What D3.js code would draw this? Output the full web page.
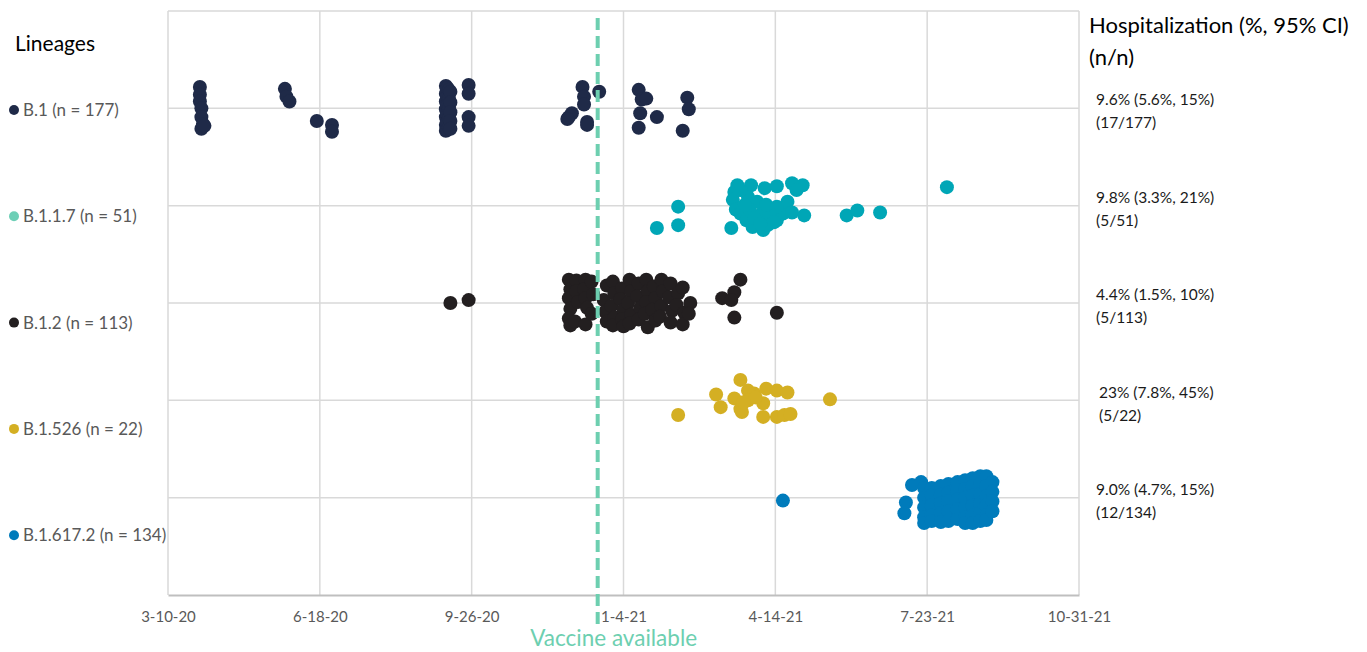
<!DOCTYPE html>
<html>
    <head>
        <meta charset="utf-8">
        <script type="text/javascript" src="https://d3js.org/d3.v7.min.js" charset="utf-8"></script>
        <style>
            body { margin: 0; background: #fff; }
            svg text { font-family: Lato, "Open Sans", sans-serif; }
        </style>
    </head>
    <body>
        <script>
            const WIDTH = 1367;
            const HEIGHT = 652;
            const LEFT = 168;
            const RIGHT = 1079;
            const TOP = 11;
            const BOTTOM = 595;
            const DOT_R = 7;

            const GRID_COLOR = '#d9d9d9';
            const AXIS_COLOR = '#bfbfbf';
            const LABEL_COLOR = '#595959';
            const VACCINE_COLOR = '#6dcfb0';

            // ---- data ----
            const LINEAGES = ['B.1 (n = 177)', 'B.1.1.7 (n = 51)', 'B.1.2 (n = 113)', 'B.1.526 (n = 22)', 'B.1.617.2 (n = 134)'];
            const DOT_COLORS = ['#1f2a48', '#00a6b6', '#231f20', '#d4af23', '#007bbb'];
            const LEGEND_COLORS = ['#1f2a48', '#6dcfb6', '#231f20', '#d4af23', '#007bbb'];

            const HOSP_RATES = ['9.6% (5.6%, 15%)', '9.8% (3.3%, 21%)', '4.4% (1.5%, 10%)', '23% (7.8%, 45%)', '9.0% (4.7%, 15%)'];
            const HOSP_COUNTS = ['(17/177)', '(5/51)', '(5/113)', '(5/22)', '(12/134)'];

            const X_TICKS = ['2020-03-10', '2020-06-18', '2020-09-26', '2021-01-04', '2021-04-14', '2021-07-23', '2021-10-31'];
            const VACCINE_DATE = '2020-12-18';

            // [sample date, vertical jitter within the lineage row]
            const B1_POINTS = [
                ['2020-03-31', 0.22], ['2020-03-31', 0.14], ['2020-03-31', 0.07], ['2020-04-01', 0.0],
                ['2020-04-01', -0.09], ['2020-04-02', -0.16], ['2020-04-01', -0.21], ['2020-04-03', -0.18],
                ['2020-05-26', 0.20], ['2020-05-27', 0.12], ['2020-05-29', 0.07],
                ['2020-06-16', -0.13], ['2020-06-26', -0.17], ['2020-06-26', -0.24],
                ['2020-09-09', 0.23], ['2020-09-09', 0.15], ['2020-09-09', 0.07], ['2020-09-09', -0.01],
                ['2020-09-09', -0.09], ['2020-09-09', -0.17], ['2020-09-09', -0.23],
                ['2020-09-10', 0.21], ['2020-09-10', 0.12], ['2020-09-10', 0.03], ['2020-09-10', -0.06],
                ['2020-09-10', -0.14], ['2020-09-10', -0.22],
                ['2020-09-11', 0.19], ['2020-09-11', 0.10], ['2020-09-11', 0.0], ['2020-09-11', -0.10], ['2020-09-11', -0.20],
                ['2020-09-12', 0.17], ['2020-09-12', 0.06], ['2020-09-12', -0.04], ['2020-09-12', -0.13], ['2020-09-12', -0.21],
                ['2020-09-24', 0.24], ['2020-09-24', 0.15], ['2020-09-24', -0.09], ['2020-09-24', -0.18],
                ['2020-12-08', 0.22], ['2020-12-09', 0.12], ['2020-12-09', 0.04], ['2020-11-29', -0.09],
                ['2020-12-01', -0.05], ['2020-11-28', -0.11], ['2020-12-11', -0.14], ['2020-12-11', -0.17],
                ['2020-12-19', 0.17],
                ['2021-01-14', 0.19], ['2021-01-16', 0.09], ['2021-01-19', 0.10], ['2021-01-15', -0.05],
                ['2021-01-26', -0.09], ['2021-01-14', -0.20], ['2021-02-15', 0.11], ['2021-02-16', -0.01],
                ['2021-02-12', -0.23]
            ];

            const B117_POINTS = [
                ['2021-02-09', -0.01], ['2021-01-26', -0.23], ['2021-02-09', -0.20],
                ['2021-03-20', 0.21], ['2021-03-18', 0.14], ['2021-03-17', 0.06], ['2021-03-19', -0.04],
                ['2021-03-16', -0.23], ['2021-03-29', 0.21], ['2021-04-07', 0.18], ['2021-04-15', 0.20],
                ['2021-04-25', 0.23], ['2021-05-02', 0.21], ['2021-04-28', 0.16], ['2021-03-27', 0.09],
                ['2021-04-02', 0.04], ['2021-03-22', -0.08], ['2021-03-26', -0.15], ['2021-03-30', -0.22],
                ['2021-04-06', -0.25], ['2021-04-09', -0.20], ['2021-04-15', -0.15], ['2021-04-19', -0.08],
                ['2021-04-22', 0.04], ['2021-04-15', -0.01], ['2021-04-25', -0.07], ['2021-05-03', -0.10],
                ['2021-04-05', -0.08], ['2021-04-10', -0.08], ['2021-03-28', -0.04], ['2021-03-25', 0.01],
                ['2021-03-31', -0.13], ['2021-04-13', -0.17], ['2021-04-04', -0.19], ['2021-04-08', 0.01],
                ['2021-03-22', 0.16],
                ['2021-05-31', -0.10], ['2021-06-07', -0.05], ['2021-06-22', -0.07], ['2021-08-05', 0.19]
            ];

            const B12_POINTS = [
                ['2020-09-12', 0.0], ['2020-09-24', 0.03],
                ['2020-11-29', 0.24], ['2020-11-30', 0.14], ['2020-11-29', 0.05], ['2020-11-30', -0.06], ['2020-11-29', -0.16], ['2020-11-30', -0.23],
                ['2020-12-04', 0.23], ['2020-12-04', 0.12], ['2020-12-05', 0.01], ['2020-12-03', -0.19],
                ['2020-12-10', 0.24], ['2020-12-09', 0.14], ['2020-12-10', 0.05], ['2020-12-11', -0.05], ['2020-12-10', -0.22],
                ['2020-12-14', 0.22], ['2020-12-15', 0.09], ['2020-12-14', -0.11],
                ['2020-12-24', 0.18], ['2020-12-22', 0.03], ['2020-12-23', -0.09], ['2020-12-24', -0.19],
                ['2020-12-28', 0.22], ['2020-12-29', 0.10], ['2020-12-27', -0.03], ['2020-12-29', -0.15], ['2020-12-28', -0.23],
                ['2021-01-03', 0.15], ['2021-01-02', 0.04], ['2021-01-04', -0.07], ['2021-01-03', -0.17], ['2021-01-04', -0.24],
                ['2021-01-08', 0.24], ['2021-01-09', 0.12], ['2021-01-07', 0.0], ['2021-01-09', -0.12], ['2021-01-08', -0.21],
                ['2021-01-14', 0.20], ['2021-01-13', 0.07], ['2021-01-15', -0.05], ['2021-01-14', -0.17],
                ['2021-01-19', 0.24], ['2021-01-20', 0.12], ['2021-01-19', 0.01], ['2021-01-18', -0.11], ['2021-01-20', -0.25],
                ['2021-01-24', 0.17], ['2021-01-25', 0.05], ['2021-01-23', -0.07], ['2021-01-25', -0.18],
                ['2021-01-29', 0.24], ['2021-01-30', 0.12], ['2021-01-29', -0.03], ['2021-01-28', -0.14],
                ['2021-02-04', 0.20], ['2021-02-03', 0.06], ['2021-02-05', -0.08], ['2021-02-04', -0.20],
                ['2021-02-09', 0.10], ['2021-02-08', -0.02],
                ['2021-02-12', 0.16], ['2021-02-13', -0.10], ['2021-02-12', -0.22],
                ['2021-02-17', 0.0], ['2021-02-16', -0.11],
                ['2021-03-22', 0.24], ['2021-03-18', 0.11], ['2021-03-10', 0.05], ['2021-03-16', 0.03],
                ['2021-03-18', -0.15], ['2021-04-15', -0.10]
            ];

            const B1526_POINTS = [
                ['2021-02-09', -0.15], ['2021-03-06', 0.06], ['2021-03-09', -0.07], ['2021-03-22', 0.21],
                ['2021-03-18', 0.02], ['2021-03-22', -0.09], ['2021-03-23', -0.12], ['2021-03-27', 0.10],
                ['2021-03-31', 0.07], ['2021-03-27', 0.0], ['2021-04-08', 0.12], ['2021-04-06', -0.03],
                ['2021-04-15', 0.10], ['2021-04-22', 0.08], ['2021-04-06', -0.17], ['2021-04-15', -0.17],
                ['2021-04-20', -0.15], ['2021-04-24', -0.14], ['2021-05-20', 0.01], ['2021-04-01', 0.03],
                ['2021-03-24', -0.02]
            ];

            const B16172_POINTS = [
                ['2021-04-19', -0.03], ['2021-07-09', -0.05], ['2021-07-08', -0.16], ['2021-07-13', 0.13], ['2021-07-19', 0.16],
                ['2021-07-21', 0.10], ['2021-07-21', 0.0], ['2021-07-21', -0.10], ['2021-07-21', -0.20], ['2021-07-21', -0.26],
                ['2021-07-26', 0.10], ['2021-07-26', 0.02], ['2021-07-26', -0.08], ['2021-07-26', -0.18], ['2021-07-26', -0.24],
                ['2021-08-01', 0.12], ['2021-08-01', 0.03], ['2021-08-01', -0.06], ['2021-08-01', -0.16], ['2021-08-01', -0.25],
                ['2021-08-06', 0.14], ['2021-08-06', 0.05], ['2021-08-06', -0.04], ['2021-08-06', -0.14], ['2021-08-06', -0.24],
                ['2021-08-12', 0.16], ['2021-08-12', 0.08], ['2021-08-12', -0.02], ['2021-08-12', -0.12], ['2021-08-12', -0.22],
                ['2021-08-17', 0.18], ['2021-08-17', 0.09], ['2021-08-17', 0.0], ['2021-08-17', -0.10], ['2021-08-17', -0.20], ['2021-08-17', -0.26],
                ['2021-08-22', 0.20], ['2021-08-22', 0.12], ['2021-08-22', 0.02], ['2021-08-22', -0.08], ['2021-08-22', -0.18], ['2021-08-22', -0.26],
                ['2021-08-27', 0.22], ['2021-08-27', 0.14], ['2021-08-27', 0.04], ['2021-08-27', -0.06], ['2021-08-27', -0.16], ['2021-08-27', -0.24],
                ['2021-08-31', 0.22], ['2021-08-31', 0.12], ['2021-08-31', 0.02], ['2021-08-31', -0.08], ['2021-08-31', -0.18], ['2021-08-31', -0.23],
                ['2021-09-04', 0.16], ['2021-09-04', 0.06], ['2021-09-04', -0.04], ['2021-09-04', -0.14]
            ];

            const POINT_SETS = [B1_POINTS, B117_POINTS, B12_POINTS, B1526_POINTS, B16172_POINTS];

            // ---- drawing ----
            const parseDate = d3.utcParse('%Y-%m-%d');

            const svg = d3.select('body')
            .append('svg')
            .attr('width', WIDTH)
            .attr('height', HEIGHT);

            let xScale = d3.scaleUtc()
            .domain([parseDate(X_TICKS[0]), parseDate(X_TICKS[X_TICKS.length - 1])])
            .range([LEFT, RIGHT]);
            // rows: top lineage sits at 5, bottom at 1
            let yScale = d3.scaleLinear()
            .domain([0, LINEAGES.length + 1])
            .range([BOTTOM, TOP]);

            let rowValue = function(i) { return LINEAGES.length - i; };

            // vertical grid
            svg.append('g')
            .selectAll('line')
            .data(X_TICKS)
            .enter()
            .append('line')
            .attr('x1', d => xScale(parseDate(d)))
            .attr('x2', d => xScale(parseDate(d)))
            .attr('y1', yScale(LINEAGES.length + 1))
            .attr('y2', yScale(0))
            .attr('stroke', GRID_COLOR)
            .attr('stroke-width', 1.5);

            // horizontal grid
            svg.append('g')
            .selectAll('line')
            .data(d3.range(1, LINEAGES.length + 2))
            .enter()
            .append('line')
            .attr('x1', LEFT)
            .attr('x2', RIGHT)
            .attr('y1', d => yScale(d))
            .attr('y2', d => yScale(d))
            .attr('stroke', GRID_COLOR)
            .attr('stroke-width', 1.5);

            // x axis
            let xAxis = svg.append('g')
            .attr('transform', 'translate(0,' + yScale(0) + ')')
            .call(d3.axisBottom(xScale)
                .tickValues(X_TICKS.map(parseDate))
                .tickFormat(d3.utcFormat('%-m-%-d-%y'))
                .tickSize(0)
                .tickPadding(16));
            xAxis.select('.domain')
            .attr('stroke', AXIS_COLOR)
            .attr('stroke-width', 2);
            xAxis.selectAll('text')
            .attr('fill', LABEL_COLOR)
            .style('font-size', '15px');

            // dots
            POINT_SETS.forEach(function(points, i) {
                svg.append('g')
                .selectAll('circle')
                .data(points)
                .enter()
                .append('circle')
                .attr('cx', d => xScale(parseDate(d[0])))
                .attr('cy', d => yScale(rowValue(i) + d[1]))
                .attr('r', DOT_R)
                .attr('fill', DOT_COLORS[i]);
            });

            // vaccine line + label
            let vx = xScale(parseDate(VACCINE_DATE));
            svg.append('line')
            .attr('x1', vx)
            .attr('x2', vx)
            .attr('y1', 18)
            .attr('y2', 627)
            .attr('stroke', VACCINE_COLOR)
            .attr('stroke-width', 4)
            .attr('stroke-dasharray', '12,6');
            svg.append('text')
            .attr('x', vx + 16)
            .attr('y', 646)
            .attr('text-anchor', 'middle')
            .attr('fill', VACCINE_COLOR)
            .style('font-size', '22.5px')
            .text('Vaccine available');

            // left legend
            svg.append('text')
            .attr('x', 15)
            .attr('y', 51)
            .attr('fill', '#000')
            .style('font-size', '21px')
            .text('Lineages');

            let legend = svg.append('g')
            .selectAll('g')
            .data(LINEAGES)
            .enter()
            .append('g')
            .attr('transform', (d, i) => 'translate(0,' + (110 + i * 106.3) + ')');
            legend.append('circle')
            .attr('cx', 14)
            .attr('cy', 0)
            .attr('r', 5)
            .attr('fill', (d, i) => LEGEND_COLORS[i]);
            legend.append('text')
            .attr('x', 23)
            .attr('y', 6)
            .attr('fill', LABEL_COLOR)
            .style('font-size', '17px')
            .text(d => d);

            // right side hospitalization
            svg.append('text')
            .attr('x', 1089)
            .attr('y', 33)
            .attr('fill', '#000')
            .style('font-size', '22px')
            .text('Hospitalization (%, 95% CI)');
            svg.append('text')
            .attr('x', 1089)
            .attr('y', 65)
            .attr('fill', '#000')
            .style('font-size', '22px')
            .text('(n/n)');

            let hosp = svg.append('g')
            .selectAll('g')
            .data(HOSP_RATES)
            .enter()
            .append('g')
            .attr('transform', (d, i) => 'translate(' + (i == 3 ? 1099 : 1096) + ',' + (105 + i * 97.5) + ')');
            hosp.append('text')
            .attr('fill', '#1a1a1a')
            .style('font-size', '15.5px')
            .text(d => d);
            hosp.append('text')
            .attr('y', 23)
            .attr('fill', '#1a1a1a')
            .style('font-size', '15.5px')
            .text((d, i) => HOSP_COUNTS[i]);
        </script>
    </body>
</html>
